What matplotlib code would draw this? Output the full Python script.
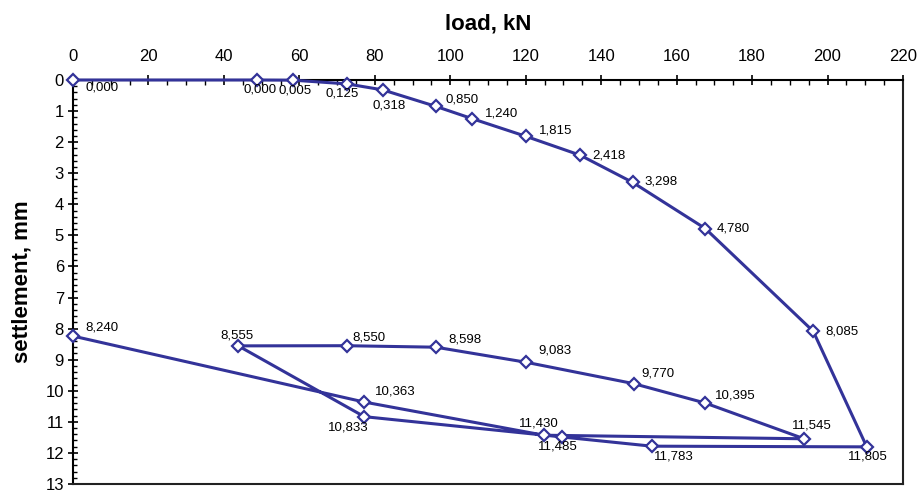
import matplotlib
matplotlib.use("Agg")
import matplotlib.pyplot as plt
from matplotlib.ticker import MultipleLocator

plt.rcParams['font.family'] = ['Liberation Sans', 'DejaVu Sans']

# Load–settlement path of the test, in the order it was recorded
load_kN = [0.0, 48.8, 58.3, 72.6, 82.1, 96.2, 105.7, 120.1, 134.4, 148.4, 167.6,
           196.2, 210.4, 153.4, 129.5, 77.2, 43.8, 72.5, 96.2, 120.1, 148.6,
           167.6, 193.8, 124.8, 77.2, 0.0]
settlement_mm = [0.000, 0.000, 0.005, 0.125, 0.318, 0.850, 1.240, 1.815, 2.418,
                 3.298, 4.780, 8.085, 11.805, 11.783, 11.485, 10.833, 8.555,
                 8.550, 8.598, 9.083, 9.770, 10.395, 11.545, 11.430, 10.363,
                 8.240]

# label placement: (dx, dy) in pixels from the marker, horizontal alignment
label_offsets = [(13, -8, 'left'), (3, -10, 'center'), (2, -10, 'center'),
                 (-5, -10, 'center'), (6, -16, 'center'), (10, 7, 'left'),
                 (13, 5, 'left'), (13, 6, 'left'), (12, 0, 'left'),
                 (12, 1, 'left'), (11, 0, 'left'), (12, 0, 'left'),
                 (1, -10, 'center'), (2, -10, 'left'), (-4, -10, 'center'),
                 (-16, -11, 'center'), (-1, 10, 'center'), (6, 8, 'left'),
                 (12, 8, 'left'), (12, 12, 'left'), (8, 10, 'left'),
                 (10, 8, 'left'), (8, 13, 'center'), (-5, 12, 'center'),
                 (11, 11, 'left'), (12, 9, 'left')]

color = '#333399'

fig = plt.figure(figsize=(9.18, 4.92), dpi=100)
ax = fig.add_axes([73 / 918, 1 - 484 / 492, 830 / 918, 404 / 492])

ax.plot(load_kN, settlement_mm, color=color, lw=2.2, marker='D', ms=6.5,
        mfc='white', mec=color, mew=1.6, clip_on=False, zorder=3)

for x, y, (dx, dy, ha) in zip(load_kN, settlement_mm, label_offsets):
    ax.annotate(f"{y:.3f}".replace('.', ','), (x, y), xytext=(dx, dy),
                textcoords='offset pixels', ha=ha, va='center',
                fontsize=9.5, color='black')

ax.set_xlim(0, 220)
ax.set_ylim(13, 0)
ax.xaxis.set_major_locator(MultipleLocator(20))
ax.xaxis.set_minor_locator(MultipleLocator(5))
ax.yaxis.set_major_locator(MultipleLocator(1))
ax.yaxis.set_minor_locator(MultipleLocator(0.2))

ax.xaxis.tick_top()
ax.xaxis.set_label_position('top')
ax.tick_params(axis='x', which='major', direction='inout', length=7, width=1.2,
               labelsize=12, pad=8)
ax.tick_params(axis='x', which='minor', direction='in', length=3.5, width=1.0)
ax.tick_params(axis='y', which='major', direction='inout', length=7, width=1.2,
               labelsize=12, pad=3)
ax.tick_params(axis='y', which='minor', direction='in', length=3, width=1.0)

for side in ['top', 'left']:
    ax.spines[side].set_linewidth(1.5)
for side in ['bottom', 'right']:
    ax.spines[side].set_linewidth(1.5)
    ax.spines[side].set_color('#222222')

ax.set_xlabel('load, kN', fontsize=16, fontweight='bold', labelpad=14)
ax.set_ylabel('settlement, mm', fontsize=16, fontweight='bold', labelpad=9)

fig.savefig('out.png', dpi=100)
